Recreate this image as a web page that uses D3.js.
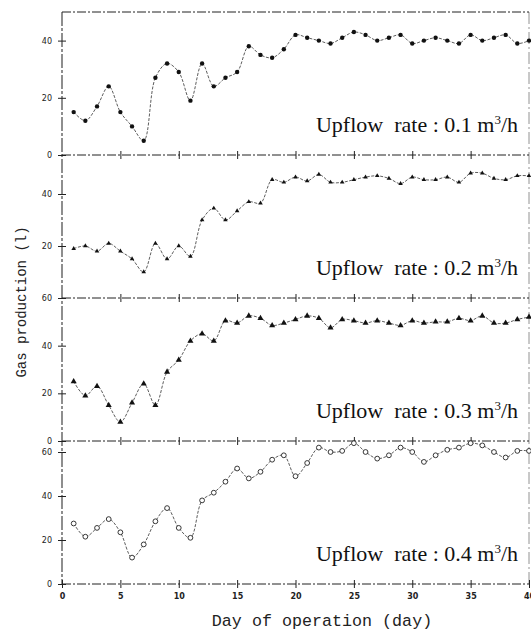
<!DOCTYPE html>
<html>
<head>
<meta charset="utf-8">
<script src="https://cdn.jsdelivr.net/npm/d3@7"></script>
<style>
  body { margin: 0; background: #fff; }
  svg { display: block; }
</style>
</head>
<body>
<div id="chart"></div>
<script>
// days of operation
var days = [1, 2, 3, 4, 5, 6, 7, 8, 9, 10, 11, 12, 13, 14, 15, 16, 17, 18, 19, 20,
    21, 22, 23, 24, 25, 26, 27, 28, 29, 30, 31, 32, 33, 34, 35, 36, 37, 38, 39, 40];

// gas production (l) for each upflow rate
var rate01 = [15, 12, 17, 24, 15, 10, 5, 27, 32, 29, 19, 32, 24, 27, 29, 38, 35, 34, 37, 42,
    41, 40, 39, 41, 43, 42, 40, 41, 42, 39, 40, 41, 40, 39, 42, 40, 41, 42, 39, 40];
var rate02 = [19, 20, 18, 21, 18, 15, 10, 21, 15, 20, 16, 30, 34.5, 30, 33.5, 37, 36.5, 45.5, 44.5, 46.5,
    45, 47.5, 44.5, 44.5, 45.5, 46.5, 47, 46, 44, 46.5, 45.5, 45.5, 46.5, 44.5, 48, 48, 46, 45.5, 47, 47];
var rate03 = [25, 19, 23, 15, 8, 16, 24, 15, 29, 34, 42, 45, 42, 50.5, 49.5, 52.5, 51.5, 48.5, 49.5, 51,
    52.5, 51.5, 47.5, 51, 50.5, 49.5, 50.5, 49.5, 48.5, 50.5, 49.5, 50, 50, 51.5, 50.5, 52.5, 49.5, 49.5, 51, 52];
var rate04 = [27.5, 21.5, 25.5, 29.5, 23.5, 12, 18, 28.5, 34.5, 25.5, 21, 38, 41.5, 46.5, 52.5, 48, 51, 56.5, 58.5, 49,
    55, 62, 60, 60.5, 64, 60, 57, 58.5, 62, 60, 55.5, 58.5, 61, 62, 64, 63, 60, 57.5, 60.5, 60.5];

var panelLabels = ["0.1", "0.2", "0.3", "0.4"];
var panelMax = [50, 55, 60, 65];
var panelTicks = [[0, 20, 40], [20, 40], [0, 20, 40, 60], [0, 20, 40, 60]];
var dayTicks = [0, 5, 10, 15, 20, 25, 30, 35, 40];

var series = [rate01, rate02, rate03, rate04];
var markers = ["dot", "smalltri", "tri", "open"];

var width = 531, height = 633;
var left = 62, right = 529, top0 = 12, panelH = 143;

var svg = d3.select("#chart")
    .append("svg")
    .attr("width", width)
    .attr("height", height);

var x = d3.scaleLinear()
    .domain([0, 40])
    .range([left, right]);

var ink = "#222";
var frameDash = "9,2,2,2";

// left axis line and right border
svg.append("line")
    .attr("x1", left).attr("x2", left)
    .attr("y1", top0).attr("y2", top0 + 4 * panelH)
    .attr("stroke", "#444").attr("stroke-width", 1.2)
    .attr("stroke-dasharray", "14,2,3,2");
svg.append("line")
    .attr("x1", right).attr("x2", right)
    .attr("y1", top0).attr("y2", top0 + 4 * panelH)
    .attr("stroke", "#777").attr("stroke-width", 0.8)
    .attr("stroke-dasharray", "12,3,2,3");

// top border
svg.append("line")
    .attr("x1", left).attr("x2", right)
    .attr("y1", top0).attr("y2", top0)
    .attr("stroke", ink).attr("stroke-width", 1)
    .attr("stroke-dasharray", frameDash);

series.forEach(function (values, i) {
    var pTop = top0 + i * panelH;
    var pBottom = pTop + panelH;

    var y = d3.scaleLinear()
        .domain([0, panelMax[i]])
        .range([pBottom, pTop]);

    // bottom line with cross ticks
    var isLast = i === series.length - 1;
    var xAxis = svg.append("g")
        .attr("transform", "translate(0," + pBottom + ")")
        .call(d3.axisBottom(x)
            .tickValues(isLast ? dayTicks : dayTicks.slice(1, -1))
            .tickSize(4)
            .tickFormat(isLast ? d3.format("d") : ""));
    xAxis.select(".domain")
        .attr("d", "M" + left + ",0H" + right)
        .attr("stroke", ink)
        .attr("stroke-dasharray", frameDash);
    xAxis.selectAll(".tick line")
        .attr("y1", -4)
        .attr("stroke", ink);
    xAxis.selectAll(".tick text")
        .attr("y", 9)
        .attr("font-family", "DejaVu Sans, sans-serif")
        .attr("font-size", 8)
        .attr("font-weight", "bold")
        .attr("fill", ink);

    // left ticks
    var yAxis = svg.append("g")
        .attr("transform", "translate(" + left + ",0)")
        .call(d3.axisLeft(y)
            .tickValues(panelTicks[i])
            .tickSize(4));
    yAxis.select(".domain").remove();
    yAxis.selectAll(".tick line")
        .attr("x1", 4)
        .attr("stroke", ink);
    yAxis.selectAll(".tick text")
        .attr("x", -10)
        .attr("font-family", "DejaVu Sans, sans-serif")
        .attr("font-size", 8)
        .attr("fill", ink);

    // curve
    var line = d3.line()
        .x(function (d, j) { return x(days[j]); })
        .y(function (d) { return y(d); })
        .curve(d3.curveCatmullRom.alpha(0.5));

    svg.append("path")
        .datum(values)
        .attr("d", line)
        .attr("fill", "none")
        .attr("stroke", "#333")
        .attr("stroke-width", 0.8)
        .attr("stroke-dasharray", "3,1.5");

    // markers
    var m = markers[i];
    if (m === "dot") {
        svg.selectAll(".m" + i)
            .data(values)
            .enter()
            .append("circle")
            .attr("cx", (d, j) => x(days[j]))
            .attr("cy", d => y(d))
            .attr("r", 2.2)
            .attr("fill", "#111");
    } else if (m === "open") {
        svg.selectAll(".m" + i)
            .data(values)
            .enter()
            .append("circle")
            .attr("cx", (d, j) => x(days[j]))
            .attr("cy", d => y(d))
            .attr("r", 2.4)
            .attr("fill", "#fff")
            .attr("stroke", "#222")
            .attr("stroke-width", 0.9);
    } else {
        var size = m === "tri" ? 16 : 9;
        svg.selectAll(".m" + i)
            .data(values)
            .enter()
            .append("path")
            .attr("transform", (d, j) => "translate(" + x(days[j]) + "," + y(d) + ")")
            .attr("d", d3.symbol().type(d3.symbolTriangle).size(size))
            .attr("fill", "#111");
    }

    // panel label
    var label = svg.append("text")
        .attr("x", 518)
        .attr("y", pBottom - 23)
        .attr("text-anchor", "end")
        .attr("font-family", "Liberation Serif, Times New Roman, serif")
        .attr("font-size", 22)
        .attr("fill", "#111");
    label.append("tspan").text("Upflow\u00a0 rate : " + panelLabels[i] + " m");
    label.append("tspan")
        .attr("font-size", 13)
        .attr("dy", -8)
        .text("3");
    label.append("tspan")
        .attr("dy", 8)
        .text("/h");
});

// axis titles
svg.append("text")
    .attr("transform", "translate(26,302) rotate(-90)")
    .attr("text-anchor", "middle")
    .attr("font-family", "Liberation Mono, Courier New, monospace")
    .attr("font-size", 14)
    .attr("fill", "#222")
    .text("Gas production (l)");

svg.append("text")
    .attr("x", 322)
    .attr("y", 626)
    .attr("text-anchor", "middle")
    .attr("font-family", "Liberation Mono, Courier New, monospace")
    .attr("font-size", 16.7)
    .attr("fill", "#222")
    .text("Day of operation (day)");
</script>
</body>
</html>
